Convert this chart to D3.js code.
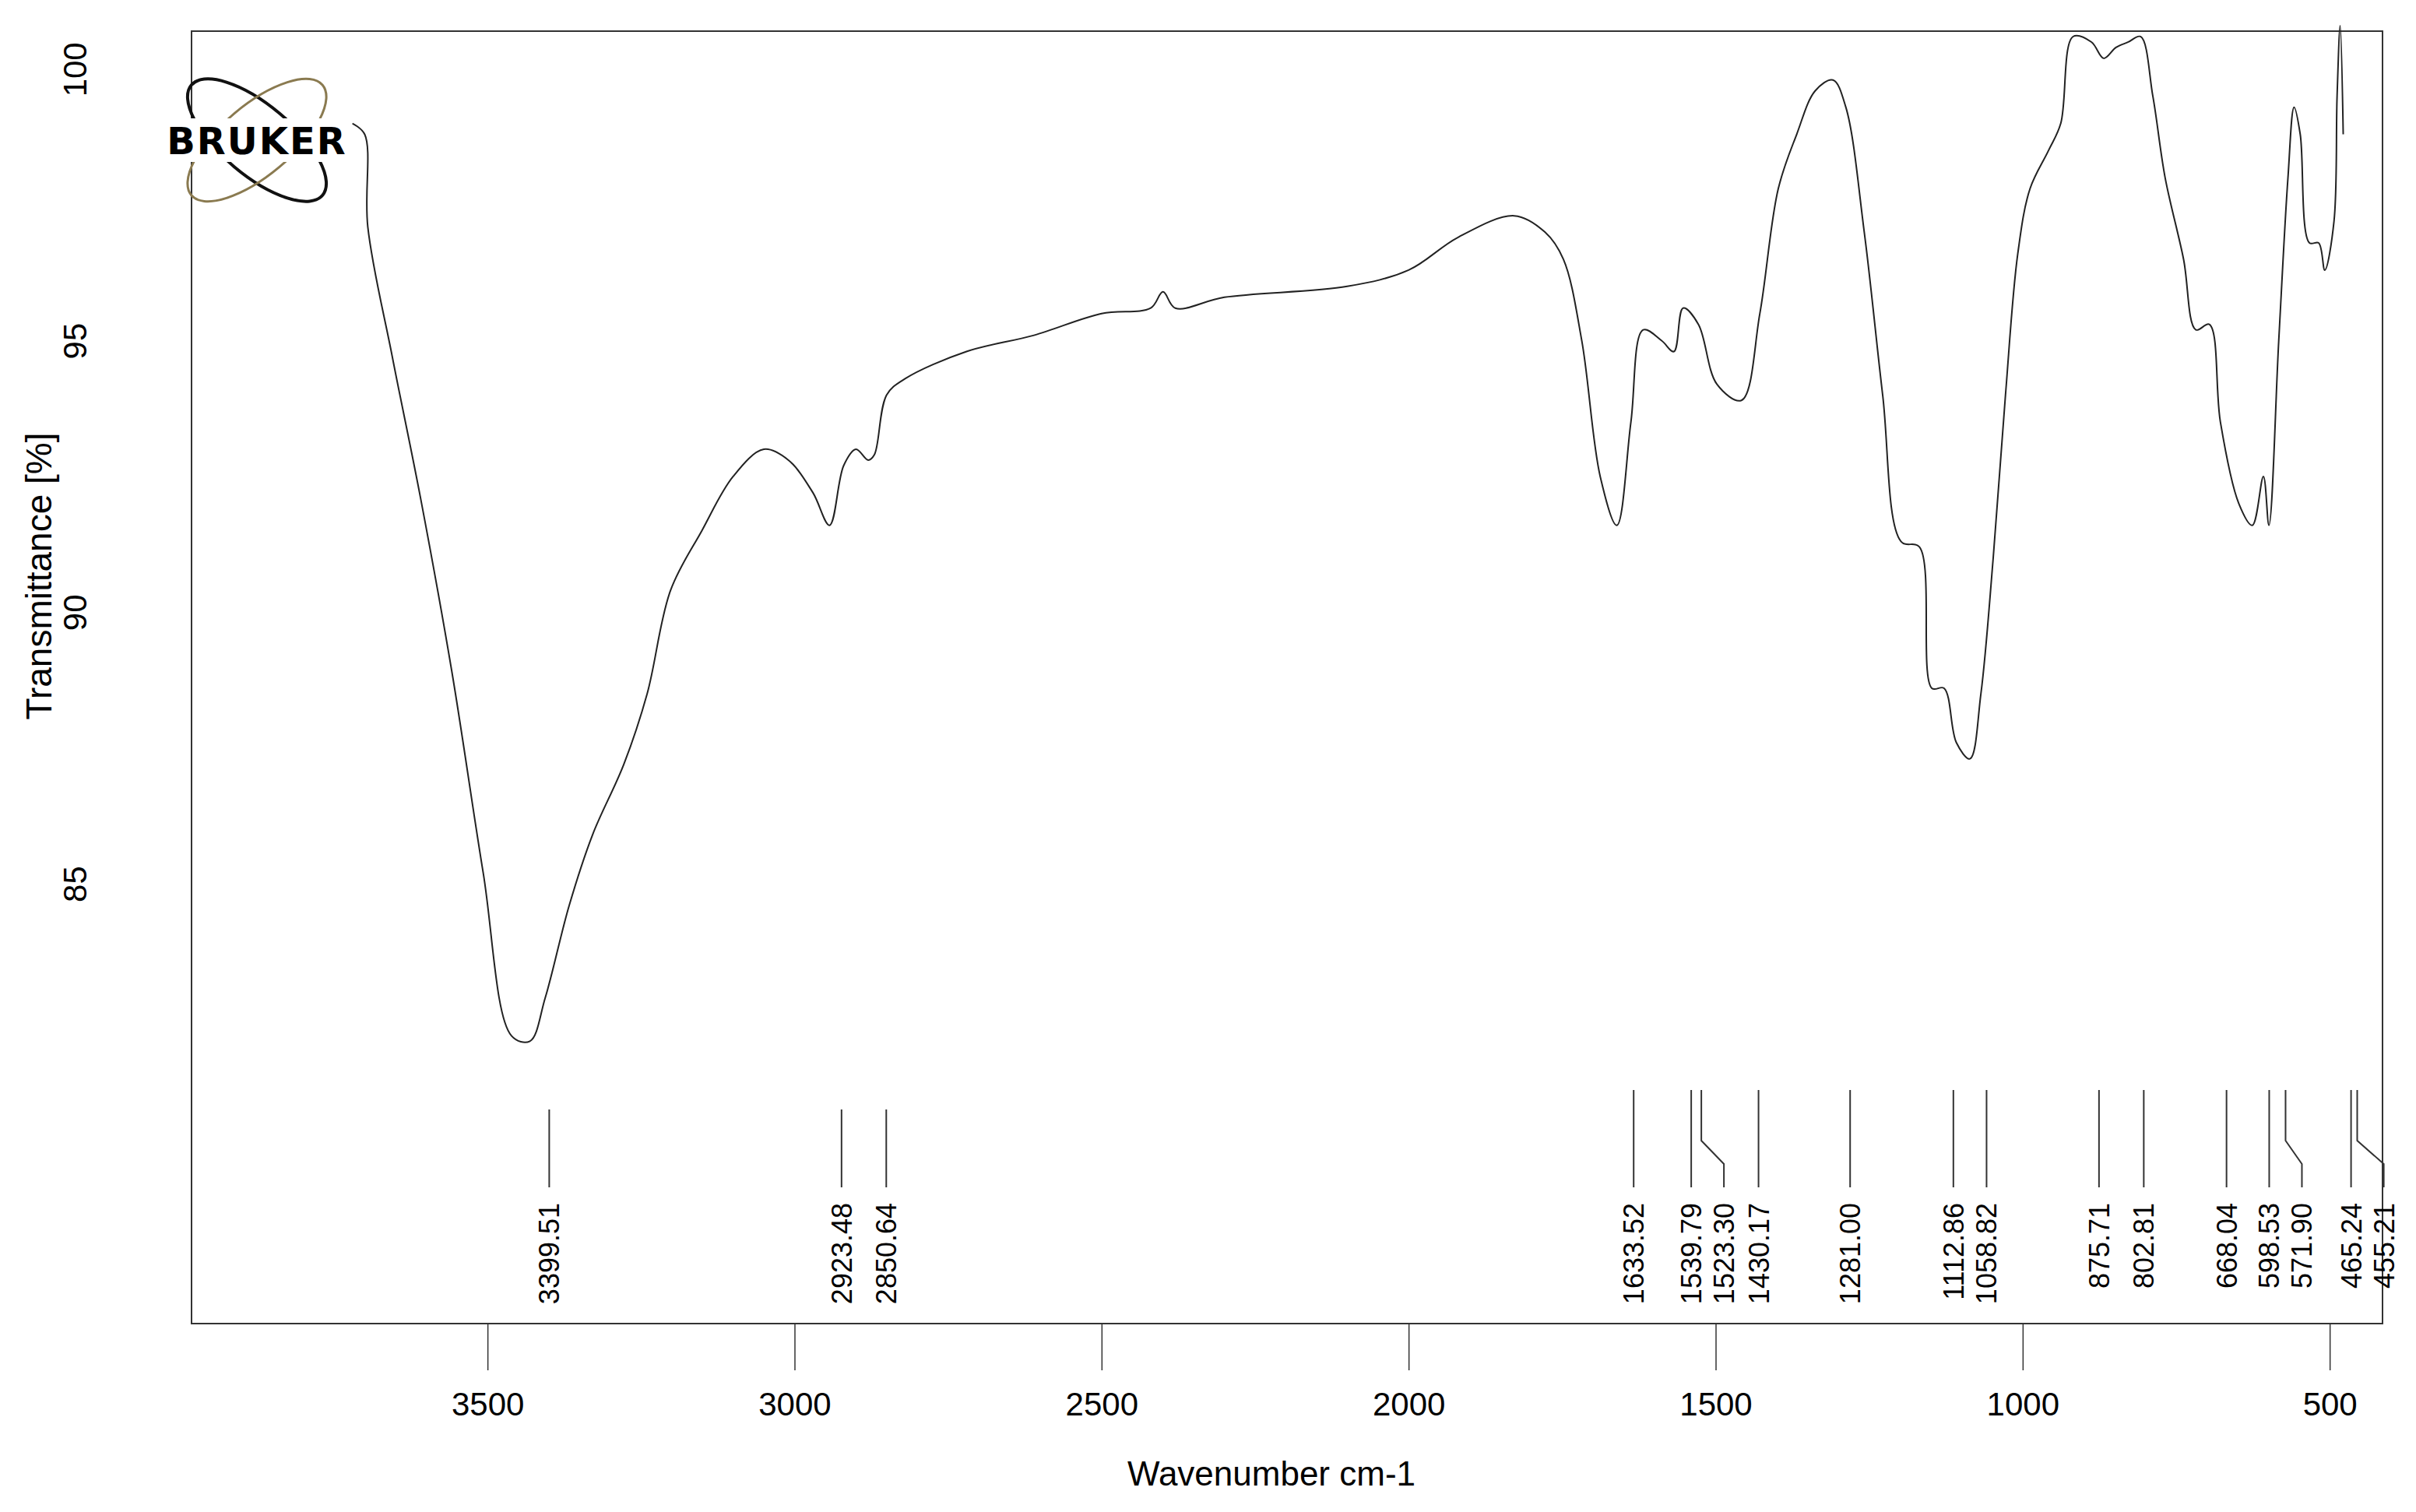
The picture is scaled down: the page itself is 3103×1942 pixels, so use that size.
<!DOCTYPE html>
<html><head><meta charset="utf-8">
<script src="https://cdn.jsdelivr.net/npm/d3@7/dist/d3.min.js"></script>
<style>body{margin:0;background:#fff}</style></head>
<body><svg id="c" width="3103" height="1942"></svg>
<script>
const wavenumber = [3720,3700,3695,3655,3609,3558,3507,3461,3431,3406,3367,3329,3278,3240,3202,3151,3100,3050,3010,2970,2943,2920,2900,2880,2870,2850,2820,2720,2610,2500,2420,2400,2380,2300,2100,2000,1920,1828,1778,1748,1718,1688,1661,1638,1618,1588,1568,1553,1528,1498,1458,1428,1398,1368,1338,1309,1288,1258,1228,1198,1168,1148,1128,1108,1086,1068,1048,1028,1008,988,958,938,918,888,868,848,828,808,788,768,738,718,696,678,648,626,608,599,583,568,558,548,533,518,508,493,488,483,478];
const transmittance = [99.0,98.8,97.1,94.7,92.1,88.9,85.2,82.2,82.1,82.9,84.6,85.9,87.2,88.5,90.4,91.5,92.5,93.0,92.8,92.2,91.6,92.7,93.0,92.8,92.9,94.0,94.3,94.8,95.1,95.5,95.6,95.9,95.6,95.8,96.0,96.3,96.9,97.3,97.0,96.5,95.0,92.5,91.6,93.5,95.2,95.0,94.8,95.6,95.3,94.2,93.9,95.5,97.8,98.8,99.6,99.8,99.3,97.0,94.0,91.3,91.2,88.6,88.6,87.6,87.3,88.5,91.0,94.0,96.6,97.8,98.5,99.0,100.6,100.5,100.2,100.4,100.5,100.6,99.5,98.0,96.5,95.2,95.3,93.5,92.0,91.6,92.5,91.6,95.0,98.0,99.3,98.8,96.8,96.8,96.3,97.2,99.5,100.8,98.8];
const peaks = [3399.51,2923.48,2850.64,1633.52,1539.79,1523.30,1430.17,1281.00,1112.86,1058.82,875.71,802.81,668.04,598.53,571.90,465.24,455.21];
const xTicks = [3500,3000,2500,2000,1500,1000,500];
const yTicks = [85,90,95,100];

const svg = d3.select("#c");
const L=246,R=3060,T=40,B=1700;
const x = d3.scaleLinear().domain([3982,414]).range([L,R]);
const y = d3.scaleLinear().domain([76.9,100.7]).range([B,T]);
const font="Liberation Sans, Arial, sans-serif";

svg.append("rect").attr("x",L).attr("y",T).attr("width",R-L).attr("height",B-T)
  .attr("fill","none").attr("stroke","#333").attr("stroke-width",2);

const xa = svg.append("g").attr("transform",`translate(0,${B})`)
  .call(d3.axisBottom(x).tickValues(xTicks).tickSize(60).tickPadding(28).tickFormat(d3.format("d")));
xa.select(".domain").remove();
xa.selectAll("line").attr("stroke","#333").attr("stroke-width",1.5);
xa.selectAll("text").attr("font-family",font).attr("font-size",42).attr("fill","#000");

const ya = svg.append("g").attr("transform",`translate(${L},0)`)
  .call(d3.axisLeft(y).tickValues(yTicks).tickSize(0).tickFormat(d3.format("d")));
ya.select(".domain").remove();
ya.selectAll("text").attr("font-family",font).attr("font-size",42).attr("fill","#000")
  .attr("text-anchor","middle").attr("x",0).attr("y",0).attr("dy","0.35em")
  .attr("transform",`translate(${96-L},0) rotate(-90)`);

svg.append("text").attr("transform","translate(66,740) rotate(-90)").attr("text-anchor","middle")
  .attr("font-family",font).attr("font-size",46).text("Transmittance [%]");
svg.append("text").attr("x",(L+R)/2-20).attr("y",1908).attr("text-anchor","middle")
  .attr("font-family",font).attr("font-size",44).text("Wavenumber cm-1");

const line = d3.line().x((d,i)=>x(wavenumber[i])).y(d=>y(d)).curve(d3.curveCatmullRom.alpha(0.5));
svg.append("path").datum(transmittance).attr("d",line).attr("fill","none")
  .attr("stroke","#222").attr("stroke-width",2);

let prev=-1e9; const gap=42;
const pk = peaks.map(p=>{const px=x(p); const lx=Math.max(px,prev+gap); prev=lx; return {p,px,lx};});
const g=svg.append("g");
pk.forEach(d=>{
  const top = d.p>2800?1425:1400;
  g.append("path").attr("d",`M${d.px},${top}V1465L${d.lx},1495V1525`)
   .attr("fill","none").attr("stroke","#333").attr("stroke-width",2);
  g.append("text").attr("transform",`translate(${d.lx+13},1545) rotate(-90)`).attr("text-anchor","end")
   .attr("font-family",font).attr("font-size",36).text(d3.format(".2f")(d.p));
});

const lg=svg.append("g").attr("transform","translate(330,180)");
lg.append("ellipse").attr("rx",110).attr("ry",45).attr("transform","rotate(40)").attr("fill","none").attr("stroke","#111").attr("stroke-width",4);
lg.append("ellipse").attr("rx",110).attr("ry",45).attr("transform","rotate(-40)").attr("fill","none").attr("stroke","#8a7a50").attr("stroke-width",3);
lg.append("rect").attr("x",-118).attr("y",-28).attr("width",236).attr("height",56).attr("fill","#fff");
lg.append("text").attr("text-anchor","middle").attr("y",18).attr("font-family","DejaVu Sans, sans-serif")
  .attr("font-weight","bold").attr("font-size",48).attr("letter-spacing",2).text("BRUKER");
</script></body></html>
